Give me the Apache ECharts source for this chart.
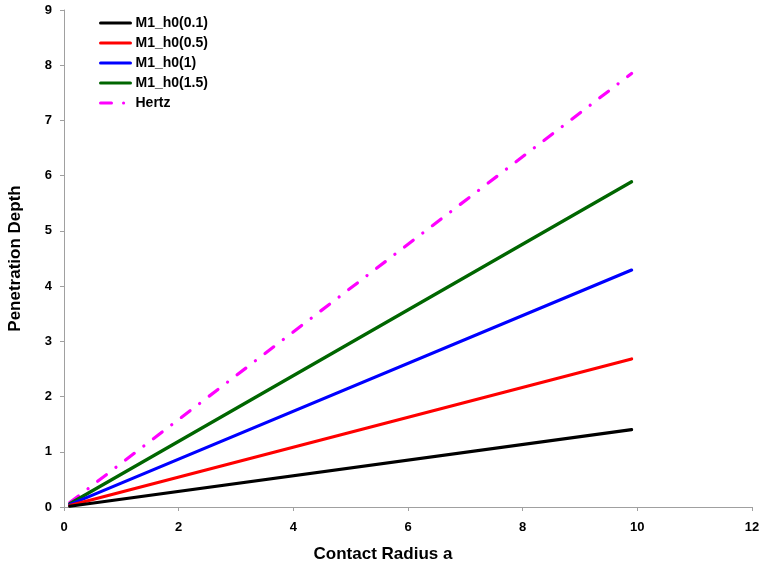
<!DOCTYPE html>
<html><head><meta charset="utf-8">
<script src="https://cdn.jsdelivr.net/npm/echarts@6/dist/echarts.min.js"></script>
<style>html,body{margin:0;padding:0;background:#fff}#c{width:762px;height:563px}</style>
</head><body><div id="c"></div>
<script>
const xValues = [0.1, 9.9];
const seriesNames = ['M1_h0(0.1)', 'M1_h0(0.5)', 'M1_h0(1)', 'M1_h0(1.5)', 'Hertz'];
const m1_01 = [0.014, 1.40];
const m1_05 = [0.027, 2.68];
const m1_1 = [0.043, 4.29];
const m1_15 = [0.059, 5.89];
const hertz = [0.079, 7.85];
const xTicks = [0, 2, 4, 6, 8, 10, 12];
const yTicks = [0, 1, 2, 3, 4, 5, 6, 7, 8, 9];

const colors = ['#000000', '#FF0000', '#0000FF', '#006600', '#FF00FF'];
const values = [m1_01, m1_05, m1_1, m1_15, hertz];
const font = 'Liberation Sans, Arial, sans-serif';

const chart = echarts.init(document.getElementById('c'));
chart.setOption({
  animation: false,
  backgroundColor: '#fff',
  grid: {left: 64, right: 10, top: 10, bottom: 56, containLabel: false, outerBoundsMode: 'none'},
  legend: {
    orient: 'vertical', left: 94, top: 11,
    itemWidth: 30, itemHeight: 12, itemGap: 6,
    itemStyle: {opacity: 0},
    lineStyle: {width: 3},
    textStyle: {fontFamily: font, fontWeight: 'bold', fontSize: 14, color: '#000'},
    data: seriesNames
  },
  xAxis: {
    type: 'value', min: xTicks[0], max: xTicks[xTicks.length - 1], interval: 2,
    name: 'Contact Radius a', nameLocation: 'middle', nameGap: 39,
    nameTextStyle: {fontFamily: font, fontWeight: 'bold', fontSize: 17, color: '#000', padding: [0, 50, 0, 0]},
    axisLine: {show: true, lineStyle: {color: '#a0a0a0', width: 1}},
    axisTick: {show: true, length: 4, lineStyle: {color: '#a0a0a0'}},
    axisLabel: {fontFamily: font, fontWeight: 'bold', fontSize: 13, color: '#000', margin: 14},
    splitLine: {show: false}
  },
  yAxis: {
    type: 'value', min: yTicks[0], max: yTicks[yTicks.length - 1], interval: 1,
    name: 'Penetration Depth', nameLocation: 'middle', nameGap: 40, nameRotate: 90,
    nameTextStyle: {fontFamily: font, fontWeight: 'bold', fontSize: 17, color: '#000'},
    axisLine: {show: true, lineStyle: {color: '#a0a0a0', width: 1}},
    axisTick: {show: true, length: 4, lineStyle: {color: '#a0a0a0'}},
    axisLabel: {fontFamily: font, fontWeight: 'bold', fontSize: 13, color: '#000', margin: 12},
    splitLine: {show: false}
  },
  series: seriesNames.map((n, i) => ({
    name: n, type: 'line', symbol: 'none', showSymbol: false,
    data: xValues.map((x, j) => [x, values[i][j]]),
    color: colors[i],
    lineStyle: i === 4
      ? {color: colors[i], width: 3.2, type: [11, 12, 0.1, 12], cap: 'round'}
      : {color: colors[i], width: 3.2, cap: 'round'},
    z: 5 - i
  }))
});
</script></body></html>
